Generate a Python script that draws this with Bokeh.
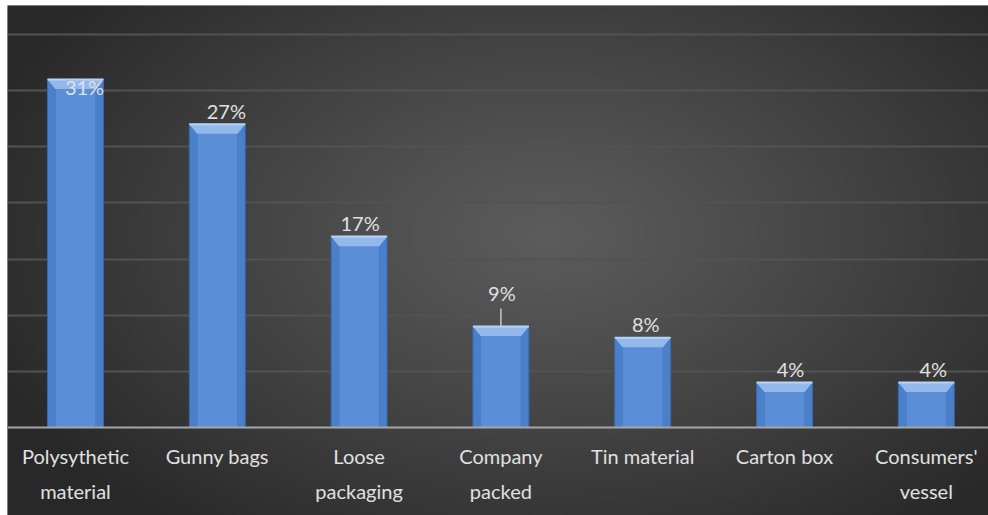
import numpy as np
from bokeh.plotting import figure
from bokeh.models import Range1d
from bokeh.core.properties import value
from bokeh.embed import file_html
from bokeh.resources import INLINE

categories = ["Polysythetic\nmaterial", "Gunny bags", "Loose\npackaging",
              "Company\npacked", "Tin material", "Carton box", "Consumers'\nvessel"]
values = [31, 27, 17, 9, 8, 4, 4]
value_labels = ["31%", "27%", "17%", "9%", "8%", "4%", "4%"]
grid_values = [5, 10, 15, 20, 25, 30, 35]

# label placement style (pixels)
label_dx = [9, 9, 1, 1, 3, 6, 7]
label_dy = [20, -1, -2, -21, -2, -2, -2]

W, H = 988, 515
p = figure(width=W, height=H, output_backend="svg", toolbar_location=None,
           x_range=Range1d(-0.4795, 6.4386), y_range=Range1d(-7.84, 37.58),
           min_border_left=7, min_border_top=5, min_border_right=0, min_border_bottom=0,
           border_fill_color="white", background_fill_color="#3a3a3a")
p.outline_line_color = None
p.xaxis.visible = False
p.yaxis.visible = False
p.xgrid.visible = False
p.ygrid.visible = False

# radial background gradient
ny, nx = 120, 240
yy, xx = np.mgrid[0:ny, 0:nx]
u = xx / (nx - 1)
v = yy / (ny - 1)
d = np.sqrt(((u - 0.55) / 0.62) ** 2 + ((v - 0.55) / 0.75) ** 2)
d = np.clip(d, 0, 1)
c0 = np.array([92, 92, 92]); c1 = np.array([40, 40, 40])
img = np.zeros((ny, nx), dtype=np.uint32)
view = img.view(dtype=np.uint8).reshape((ny, nx, 4))
for k in range(3):
    view[:, :, k] = (c0[k] + (c1[k] - c0[k]) * d ** 1.1).astype(np.uint8)
view[:, :, 3] = 255
r = p.image_rgba(image=[img], x=-0.4795, y=-7.84, dw=6.4386 + 0.4795, dh=37.58 + 7.84)
r.level = "image"

# gridlines
p.hspan(y=grid_values, line_color="#525252", line_width=2)

x = list(range(len(values)))
bw = 0.395
# bar body
p.vbar(x=x, top=values, bottom=0, width=bw, fill_color="#4a7fca", line_color="#3a67a8", line_width=1)
p.vbar(x=x, top=values, bottom=0, width=bw * 0.7, fill_color="#5e93db", line_color=None, fill_alpha=0.8)
# bevel caps
capx, capy = [], []
dxp = 0.055
dyp = 0.85
for i, val in enumerate(values):
    capx.append([i - bw / 2, i + bw / 2, i + bw / 2 - dxp, i - bw / 2 + dxp])
    capy.append([val, val, val - dyp, val - dyp])
p.patches(capx, capy, fill_color="#92b8ec", line_color=None)
p.segment(x0=[i - bw / 2 for i in x], x1=[i + bw / 2 for i in x], y0=values, y1=values,
          line_color="#b9d3f5", line_width=2)

# baseline
p.hspan(y=[0], line_color="#a6a6a6", line_width=2)

# leader line for 9%
p.segment(x0=[3], x1=[3], y0=[values[3]], y1=[values[3] + 1.6], line_color="#c8c8c8", line_width=1.5)

# value labels
p.text(x=x, y=values, text=value_labels, x_offset=label_dx, y_offset=label_dy,
       text_align="center", text_baseline="bottom", text_color="#e0e0e0",
       text_font=value("Lato"), text_font_size="20px")

# category labels
p.text(x=x, y=[-1.5] * len(x), text=categories, text_align="center", text_baseline="top",
       text_color="#e0e0e0", text_font=value("Lato"), text_font_size="20px", text_line_height=1.45)

open("out.html", "w").write(file_html(p, INLINE))
